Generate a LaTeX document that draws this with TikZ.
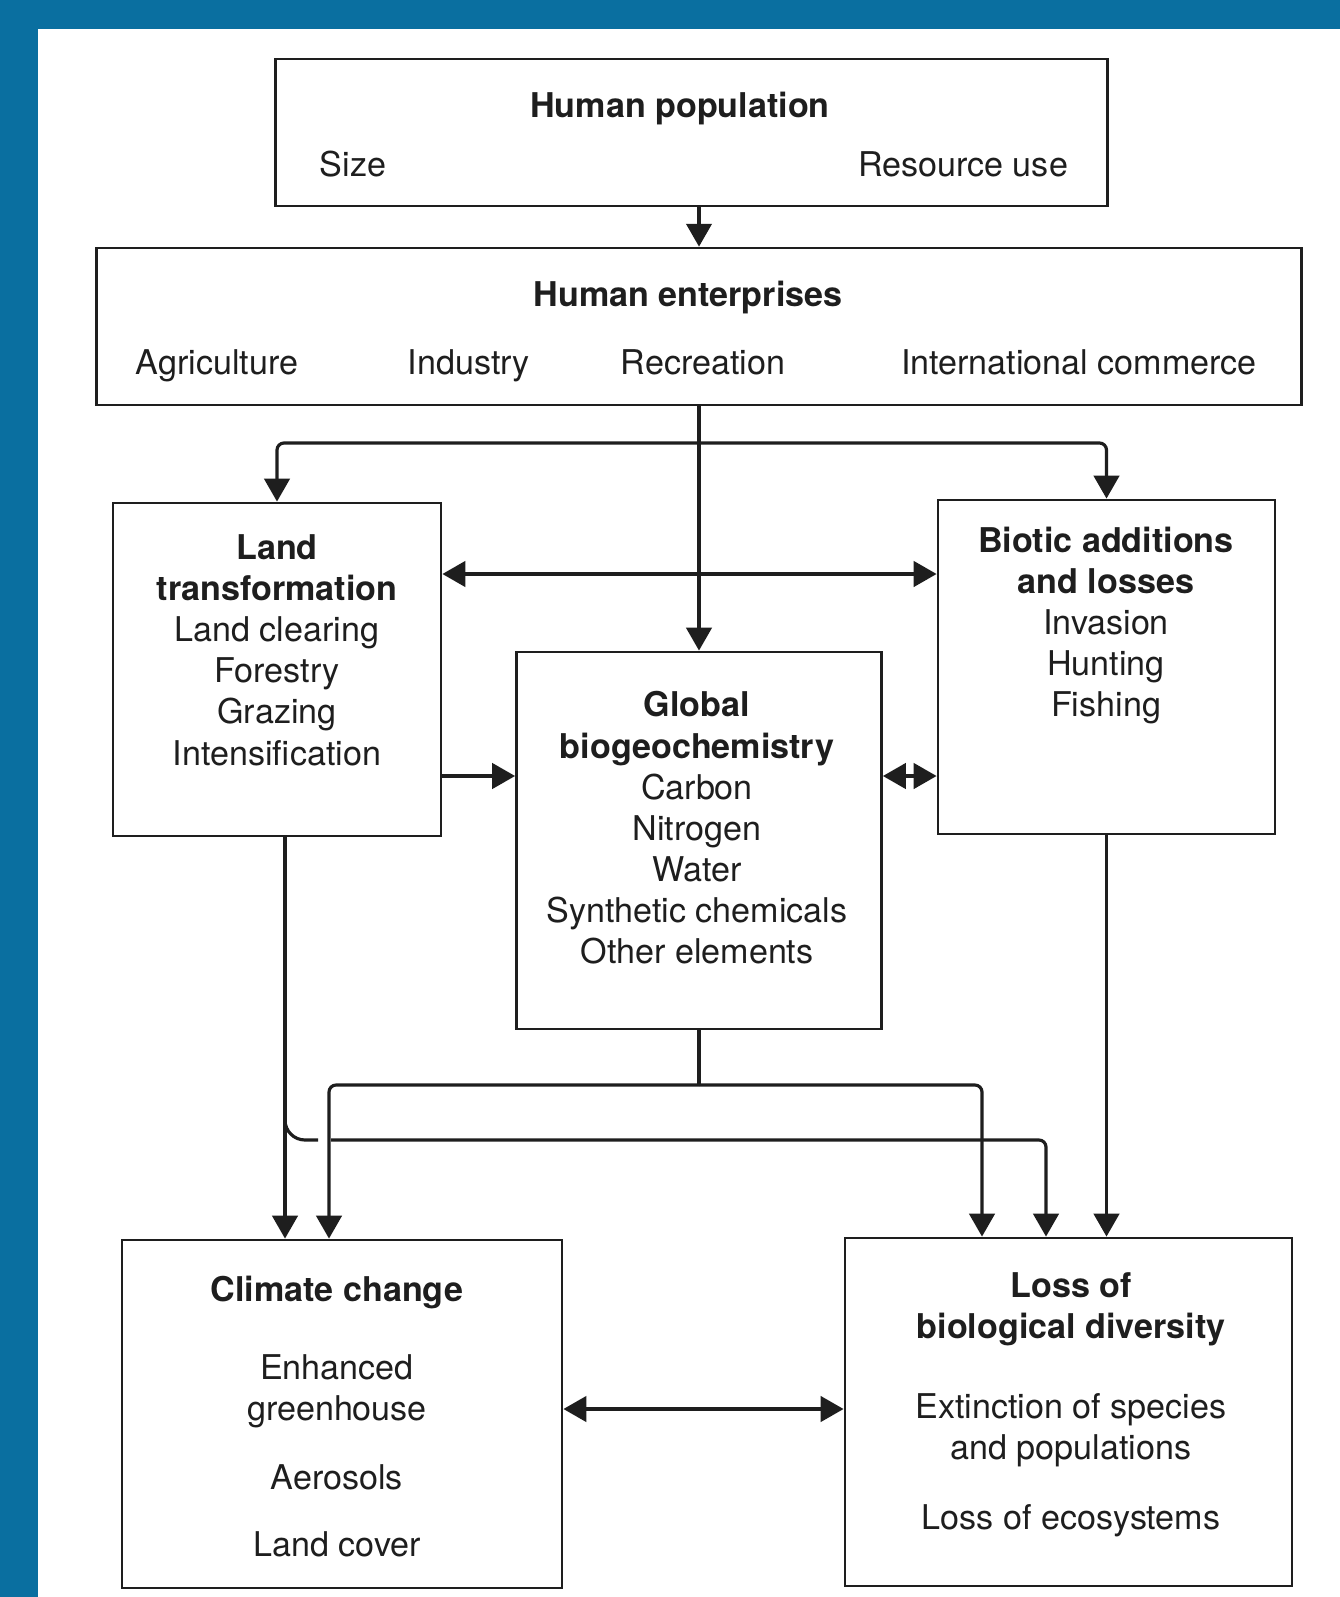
\documentclass[tikz,border=0pt]{standalone}
\usepackage{fontspec}
\setmainfont{TeX Gyre Heros}
\usetikzlibrary{arrows.meta,calc,positioning}
\definecolor{frameblue}{RGB}{10,111,160}
\definecolor{ink}{RGB}{30,30,30}
\tikzset{
  box/.style={draw=ink, line width=0.75pt, inner sep=0pt},
  lbl/.style={text=ink, align=center, inner sep=0pt, font=\fontsize{9.7}{11.7}\selectfont},
  line/.style={lbl, anchor=base},
  wire/.style={draw=ink, line width=0.9pt},
  arr/.style={wire, -{Triangle[length=6.5pt,width=7.2pt]}},
  dblarr/.style={wire, {Triangle[length=6.5pt,width=7.2pt]}-{Triangle[length=6.5pt,width=7.2pt]}},
}

\begin{document}
\begin{tikzpicture}[x=0.01cm, y=-0.01cm]
  \useasboundingbox (0,0) rectangle (1340,1597);
  \fill[frameblue] (0,0) rectangle (1340,1597);
  \fill[white] (38,29) rectangle (1340,1597);

  % boxes
  \node[box, minimum width=8.31cm, minimum height=1.47cm] (pop) at (691.5,132.5) {};
  \node[box, minimum width=12.04cm, minimum height=1.57cm] (ent) at (699,326.5) {};
  \node[box, minimum width=3.28cm, minimum height=3.33cm] (land) at (277,669.5) {};
  \node[box, minimum width=3.37cm, minimum height=3.34cm] (bio) at (1106.5,667) {};
  \node[box, minimum width=3.65cm, minimum height=3.77cm] (glob) at (699,840.5) {};
  \node[box, minimum width=4.40cm, minimum height=3.48cm] (clim) at (342,1414) {};
  \node[box, minimum width=4.47cm, minimum height=3.48cm] (loss) at (1068.5,1412) {};

  % texts
  \node[line] (poptitle) at (680,118) {\bfseries Human population};
  \node[line] (popsize) at (353,177) {Size};
  \node[line] (popuse) at (963,177) {Resource use};
  \node[line] (enttitle) at (688,307) {\bfseries Human enterprises};
  \node[line] (entagri) at (217,374) {Agriculture};
  \node[line] (entind) at (469,374) {Industry};
  \node[line] (entrec) at (703,374) {Recreation};
  \node[line] (entcom) at (1079,374) {International commerce};
  \node[lbl] (landtxt) at (277,650)
    {\bfseries Land\\\bfseries transformation\\Land clearing\\Forestry\\Grazing\\Intensification};
  \node[lbl] (biotxt) at (1106,625.5)
    {\bfseries Biotic additions\\\bfseries and losses\\Invasion\\Hunting\\Fishing};
  \node[lbl] (globtxt) at (697,828)
    {\bfseries Global\\\bfseries biogeochemistry\\Carbon\\Nitrogen\\Water\\Synthetic chemicals\\Other elements};
  \node[line] (climtitle) at (337,1301) {\bfseries Climate change};
  \node[lbl] (climgh) at (337,1391.5) {Enhanced\\greenhouse};
  \node[line] (climaer) at (337,1489) {Aerosols};
  \node[line] (climcov) at (337,1556) {Land cover};
  \node[lbl] (losstitle) at (1071,1309) {\bfseries Loss of\\\bfseries biological diversity};
  \node[lbl] (lossext) at (1071,1430.5) {Extinction of species\\and populations};
  \node[line] (losseco) at (1071,1529) {Loss of ecosystems};

  % connectors
  \coordinate (split) at (glob.north |- 0,443);
  \coordinate (gsplit) at (glob.south |- 0,1085);
  \coordinate (bend) at (285,1110);
  \coordinate (hop) at (318,1140);
  \coordinate (hopend) at (331,1140);

  \draw[arr] (pop.south -| ent.north) -- (ent.north);
  \draw[arr] (ent.south -| glob.north) -- (glob.north);
  \draw[arr, rounded corners=2pt] (split) -| (land.north);
  \draw[arr, rounded corners=2pt] (split) -| (bio.north);
  \draw[dblarr] (land.east |- 0,574) -- (bio.west |- 0,574);
  \draw[arr] (land.east |- 0,776) -- (glob.west |- 0,776);
  \draw[dblarr] (glob.east |- 0,776) -- (bio.west |- 0,776);

  \draw[arr] (land.south -| 285,0) -- (clim.north -| 285,0);
  \draw[wire, rounded corners=0.2cm] (bend) |- (hop);
  \draw[arr, rounded corners=2pt] (hopend) -| (loss.north -| 1046,0);
  \draw[wire] (glob.south) -- (gsplit);
  \draw[arr, rounded corners=2pt] (gsplit) -| (clim.north -| 329,0);
  \draw[arr, rounded corners=2pt] (gsplit) -| (loss.north -| 982,0);
  \draw[arr] (bio.south) -- (bio.south |- loss.north);
  \draw[dblarr] (clim.east |- 0,1409) -- (loss.west |- 0,1409);
\end{tikzpicture}
\end{document}
